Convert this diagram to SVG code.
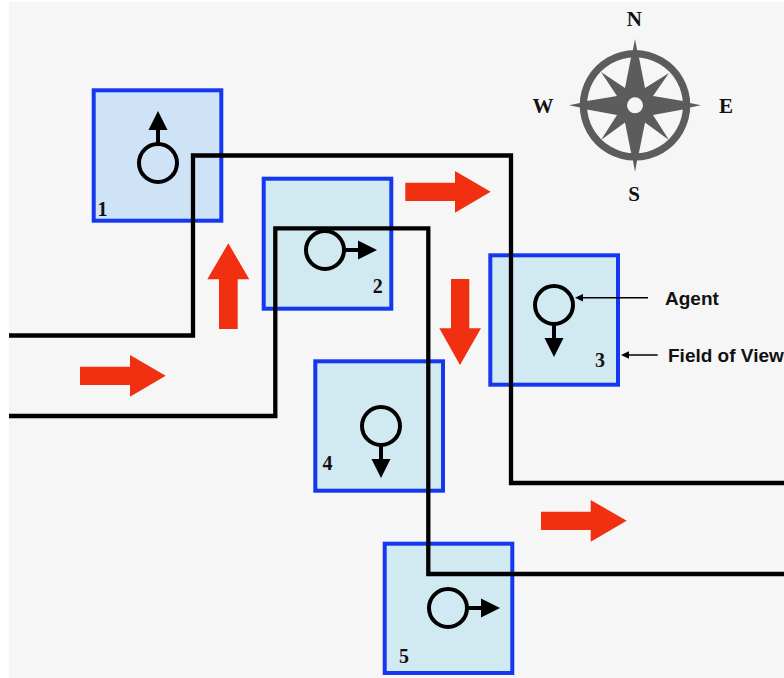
<svg xmlns="http://www.w3.org/2000/svg" width="784" height="678" viewBox="0 0 784 678">
<defs>
<style>
.fov{stroke:#1438f0;stroke-width:4}
.c1{fill:#cfe3f6}.c2{fill:#d1e9f0}
.ag{fill:none;stroke:#000;stroke-width:4}
.path{fill:none;stroke:#000;stroke-width:4.300}
.ah{fill:#000}
.red{fill:#f03010}
.num{font:bold 20px "Liberation Serif",serif;fill:#111}
.dir{font:bold 21px "Liberation Serif",serif;fill:#111;text-anchor:middle}
.lab{font:bold 19px "Liberation Sans",sans-serif;fill:#111}
.thin{stroke:#000;stroke-width:1.500;fill:none}
.g{fill:#5c5c5c}
</style>
<g id="agent-arrow"><circle class="ag" cx="0" cy="0" r="19"/><line x1="19" y1="0" x2="34" y2="0" stroke="#000" stroke-width="4"/><path class="ah" d="M33 -9.500L52 0L33 9.500Z"/></g>
</defs>
<rect width="784" height="678" fill="#fff"/>
<rect x="9" y="2" width="775" height="676" fill="#f6f6f6"/>

<g id="node-1"><rect class="fov c1" x="93.700" y="90.300" width="127.600" height="130.400"/><use href="#agent-arrow" transform="translate(158,163) rotate(-90)"/><text class="num" x="97.500" y="216">1</text></g>
<g id="node-2"><rect class="fov c2" x="263.700" y="178.700" width="127.600" height="130"/><use href="#agent-arrow" transform="translate(325,250)"/><text class="num" x="372.700" y="293">2</text></g>
<g id="node-3"><rect class="fov c2" x="490.300" y="255.300" width="127.700" height="129.400"/><use href="#agent-arrow" transform="translate(554,305) rotate(90)"/><text class="num" x="595" y="367">3</text></g>
<g id="node-4"><rect class="fov c2" x="315.300" y="361.300" width="127.700" height="129.400"/><use href="#agent-arrow" transform="translate(381,426) rotate(90)"/><text class="num" x="322.500" y="470">4</text></g>
<g id="node-5"><rect class="fov c2" x="384.700" y="543.700" width="127.600" height="129.300"/><use href="#agent-arrow" transform="translate(448,608)"/><text class="num" x="399" y="662.500">5</text></g>

<g id="connectors">
<path class="path" d="M9 335.500H193V155.500H511V483H784"/>
<path class="path" d="M9 416H275.300V228.300H428.300V574H784"/>
<path class="red" d="M80 366.700H130V355L165.700 375.700L130 396.700V385H80Z"/>
<path class="red" d="M219 329V279.300H207.300L228.300 243.300L249.300 279.300H237.700V329Z"/>
<path class="red" d="M405.300 182.700H455V171L490.700 191.700L455 212.700V201H405.300Z"/>
<path class="red" d="M451 279H469.300V328.300H481L460 365L439.300 328.300H451Z"/>
<path class="red" d="M541 511.700H590.700V500L626.700 520.700L590.700 541.700V530H541Z"/>
<line class="thin" x1="648" y1="297.700" x2="579" y2="297.700"/><path class="ah" d="M575 297.700L583 294V301.400Z"/>
<line class="thin" x1="657.700" y1="355" x2="625" y2="355"/><path class="ah" d="M621 355L629 351.300V358.700Z"/>
</g>

<g id="labels">
<text class="lab" x="665" y="305">Agent</text>
<text class="lab" x="668" y="361.700">Field of View</text>
</g>

<g id="compass">
<path class="g" fill-rule="evenodd" d="M635 50a55.300 55.300 0 1 0 .001 0ZM635 57.300a48 48 0 1 1 -.001 0Z"/>
<path class="g" d="M635 39L637.500 52L639.500 60L645 88L669 73L653 96L683 101L690 103L701 105.300L690 107.600L683 109.600L653 115L669 140L645 122.600L639.500 150L637.500 158L635 172L632.500 158L630.500 150L625 122.600L601 140L617 115L587 109.600L580 107.600L569 105.300L580 103L587 101L617 96L601 72L625 88L630.500 60L632.500 52Z"/>
<circle cx="635" cy="105.300" r="8" fill="#f6f6f6"/>
<text class="dir" x="634.300" y="26">N</text>
<text class="dir" x="634" y="200.500">S</text>
<text class="dir" x="543" y="113.300">W</text>
<text class="dir" x="726" y="113.300">E</text>
</g>
</svg>
